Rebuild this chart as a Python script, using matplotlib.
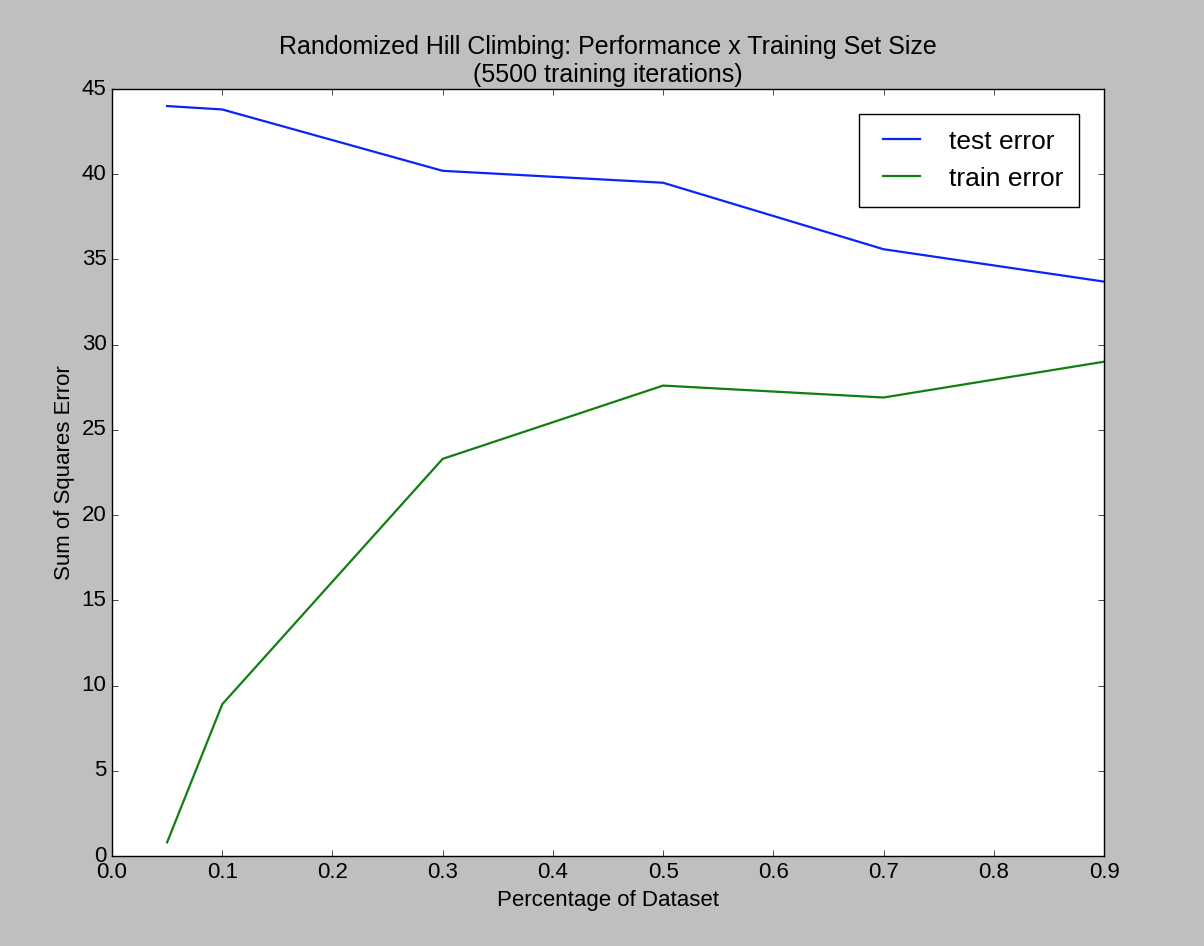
import matplotlib
matplotlib.use('Agg')
import matplotlib.pyplot as plt

plt.style.use('classic')
plt.rcParams['font.family'] = ['Liberation Sans', 'DejaVu Sans']

pct = [0.05, 0.1, 0.3, 0.5, 0.7, 0.9]
test_err = [44.0, 43.8, 40.2, 39.5, 35.6, 33.7]
train_err = [0.8, 8.9, 23.3, 27.6, 26.9, 29.0]

fig = plt.figure(figsize=(12.04, 9.46), dpi=100, facecolor='#bfbfbf')
ax = fig.add_axes([112/1204, 1-856/946, (1104-112)/1204, (856-89)/946])
ax.plot(pct, test_err, color='#0b24fb', lw=1.6, label='test error')
ax.plot(pct, train_err, color='#107f10', lw=1.6, label='train error')
ax.set_xlim(0, 0.9)
ax.set_ylim(0, 45)
ax.tick_params(labelsize=16)
ax.set_xlabel('Percentage of Dataset', fontsize=16)
ax.set_ylabel('Sum of Squares Error', fontsize=16)
ax.set_title('Randomized Hill Climbing: Performance x Training Set Size\n(5500 training iterations)',
             fontsize=18)
ax.legend(loc='upper right', fontsize=19, borderpad=0.6, labelspacing=0.5,
          bbox_to_anchor=(0.988, 0.985))

fig.savefig('out.png', dpi=100, facecolor=fig.get_facecolor())
